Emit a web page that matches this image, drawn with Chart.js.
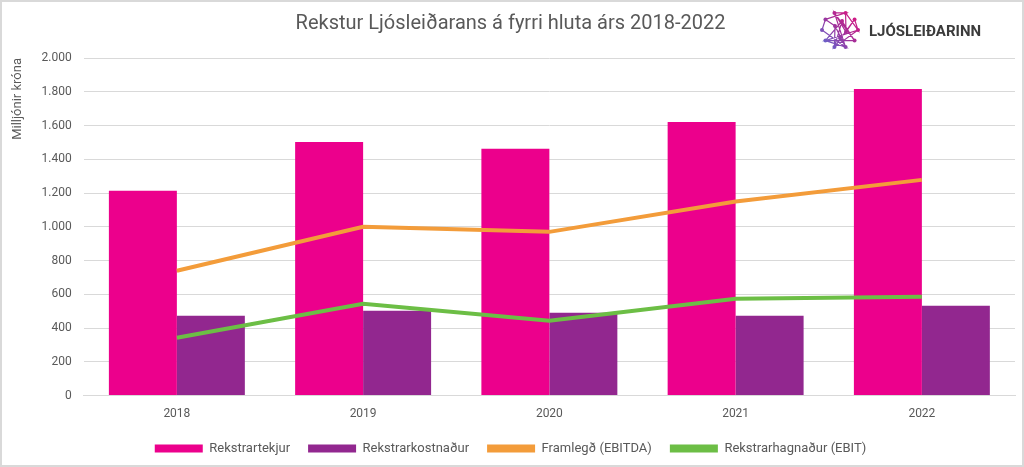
<!DOCTYPE html>
<html>
<head>
<meta charset="utf-8">
<script src="https://cdn.jsdelivr.net/npm/chart.js@4"></script>
<style>
  html, body { margin: 0; padding: 0; background: #fff; }
  #wrap { width: 1024px; height: 467px; position: relative; box-sizing: border-box; border: 2px solid #d9d9d9; }
  canvas { display: block; }
</style>
</head>
<body>
<div id="wrap"><canvas id="chart" width="1020" height="463"></canvas></div>
<script>
// gögn
const years = ["2018", "2019", "2020", "2021", "2022"];
const tekjur = [1213, 1503, 1462, 1621, 1817];
const kostnadur = [473, 503, 491, 473, 533];
const ebitda = [740, 1000, 970, 1150, 1278];
const ebit = [343, 544, 444, 574, 586];

const FONT = "Roboto, 'Open Sans', sans-serif";

// logo efst til hægri
const logo = {
  id: "logo",
  afterDraw(chart) {
    const ctx = chart.ctx;
    ctx.save();
    const cx = 838, cy = 28, r = 18;
    const g = ctx.createLinearGradient(cx - r, cy + r, cx + r, cy - r);
    g.addColorStop(0, "#5b6fd6");
    g.addColorStop(0.5, "#a0309a");
    g.addColorStop(1, "#e0147d");
    ctx.strokeStyle = g;
    ctx.fillStyle = g;
    ctx.lineWidth = 1.2;
    const pts = [];
    for (let i = 0; i < 10; i++) {
      const a = (i / 10) * Math.PI * 2;
      pts.push([cx + Math.cos(a) * r, cy + Math.sin(a) * r]);
    }
    pts.push([cx - 5, cy - 4], [cx + 6, cy + 2], [cx, cy + 8], [cx + 2, cy - 9]);
    ctx.beginPath();
    for (let i = 0; i < pts.length; i++) {
      const p = pts[i], q = pts[(i * 3 + 4) % pts.length], s = pts[(i + 1) % 10];
      ctx.moveTo(p[0], p[1]); ctx.lineTo(q[0], q[1]);
      if (i < 10) ctx.lineTo(s[0], s[1]);
    }
    ctx.stroke();
    pts.forEach(p => { ctx.beginPath(); ctx.arc(p[0], p[1], 2, 0, Math.PI * 2); ctx.fill(); });
    ctx.fillStyle = "#3b3b3b";
    ctx.font = "bold 15px " + FONT;
    ctx.textBaseline = "middle";
    ctx.fillText("LJÓSLEIÐARINN", 867, 30);
    ctx.restore();
  }
};

new Chart(document.getElementById("chart"), {
  data: {
    labels: years,
    datasets: [
      { type: "bar", label: "Rekstrartekjur", data: tekjur, backgroundColor: "#ec008c", order: 3 },
      { type: "bar", label: "Rekstrarkostnaður", data: kostnadur, backgroundColor: "#92278f", order: 4 },
      { type: "line", label: "Framlegð (EBITDA)", data: ebitda, borderColor: "#f39c3a", backgroundColor: "#f39c3a",
        borderWidth: 4, pointRadius: 0, tension: 0, order: 1 },
      { type: "line", label: "Rekstrarhagnaður (EBIT)", data: ebit, borderColor: "#6cbe45", backgroundColor: "#6cbe45",
        borderWidth: 4, pointRadius: 0, tension: 0, order: 2 }
    ]
  },
  options: {
    responsive: false,
    animation: false,
    devicePixelRatio: 1,
    layout: { padding: { left: 4, right: 7, top: 6, bottom: 0 } },
    datasets: { bar: { categoryPercentage: 0.73, barPercentage: 1 } },
    scales: {
      x: {
        grid: { display: false },
        border: { color: "#d9d9d9" },
        ticks: { color: "#595959", font: { family: FONT, size: 12 } }
      },
      y: {
        min: 0, max: 2000,
        ticks: { stepSize: 200, color: "#595959", padding: 12, font: { family: FONT, size: 12 },
          callback: v => v.toLocaleString("de-DE") },
        grid: { color: "#d9d9d9", drawTicks: false },
        border: { display: false },
        title: { display: true, align: "end", text: "Milljónir króna", color: "#595959", font: { family: FONT, size: 13 } }
      }
    },
    plugins: {
      title: { display: true, text: "Rekstur Ljósleiðarans á fyrri hluta árs 2018-2022", color: "#595959",
        font: { family: FONT, size: 20, weight: "normal" }, padding: { top: 4, bottom: 22 } },
      legend: { position: "bottom",
        labels: { color: "#595959", font: { family: FONT, size: 13 }, boxWidth: 48, boxHeight: 8, padding: 18,
          sort: (a, b) => a.datasetIndex - b.datasetIndex,
          generateLabels: chart => Chart.defaults.plugins.legend.labels.generateLabels(chart).map(l => ({ ...l, lineWidth: 0 })) } },
      tooltip: { enabled: false }
    }
  },
  plugins: [logo]
});
</script>
</body>
</html>
